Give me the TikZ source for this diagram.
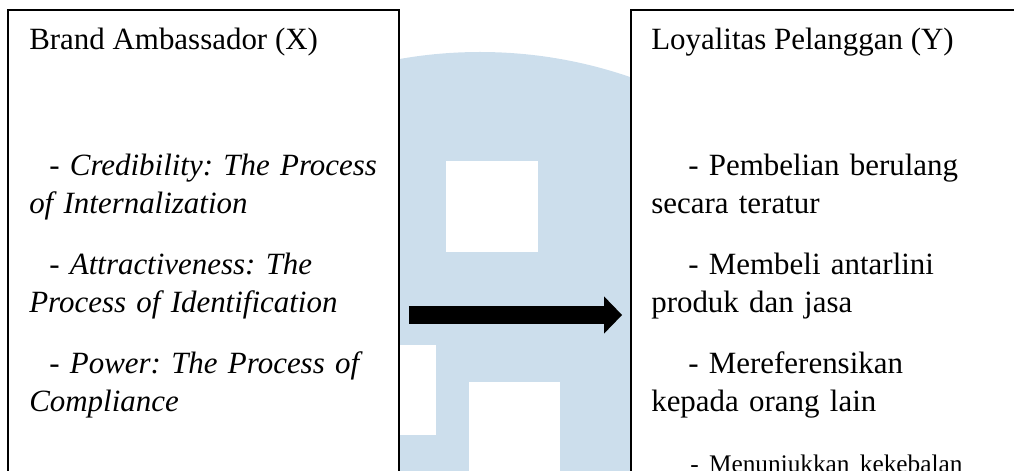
\documentclass[tikz,border=0pt]{standalone}
\usepackage{fontspec}
\setmainfont{Liberation Serif}
\frenchspacing
\usetikzlibrary{arrows.meta, positioning}
\definecolor{umnblue}{RGB}{204, 222, 236}

\begin{document}
\begin{tikzpicture}[x=0.025cm, y=-0.025cm,
    varbox/.style={draw, line width=1.2pt, fill=white, minimum height=15.25cm, inner sep=0pt},
    vartitle/.style={anchor=base west, inner sep=0pt, font=\fontsize{22}{26.7}\selectfont},
    varitems/.style={anchor=base west, inner sep=0pt, text width=10cm, align=left, font=\fontsize{22}{26.7}\selectfont}]
    \useasboundingbox (0,0) rectangle (1014,471);
    \clip (0,0) rectangle (1014,471);
    % logo in the background
    \fill[umnblue] (480,512) circle[radius=460];
    \fill[white] (446,161) rectangle (538,252);
    \fill[white] (380,345) rectangle (436,435);
    \fill[white] (469,382) rectangle (560,480);
    % variables
    \node[varbox, minimum width=9.775cm] (xbox) at (203.5,315) {};
    \node[varbox, minimum width=9.975cm] (ybox) at (830.5,315) {};
    \node[vartitle] (xtitle) at (29,50) {Brand Ambassador (X)};
    \node[varitems] (xitems) at (29,176) {\hspace*{0.5cm}- \textit{Credibility: The Process}\\
        \textit{of Internalization}\\[17pt]
        \hspace*{0.5cm}- \textit{Attractiveness: The}\\
        \textit{Process of Identification}\\[17pt]
        \hspace*{0.5cm}- \textit{Power: The Process of}\\
        \textit{Compliance}};
    \node[vartitle] (ytitle) at (651,50) {Loyalitas Pelanggan (Y)};
    \node[varitems] (yitems) at (651,176) {\hspace*{0.925cm}- Pembelian berulang\\
        secara teratur\\[17pt]
        \hspace*{0.925cm}- Membeli antarlini\\
        produk dan jasa\\[17pt]
        \hspace*{0.925cm}- Mereferensikan\\
        kepada orang lain\\[17pt]
        \hspace*{0.975cm}{\fontsize{18}{22}\selectfont - Menunjukkan kekebalan}};
    \draw[-{Triangle[length=0.45cm, width=0.9cm]}, line width=0.45cm, shorten <=0.225cm, shorten >=0.2cm] (xbox.east) -- (ybox.west);
\end{tikzpicture}
\end{document}
